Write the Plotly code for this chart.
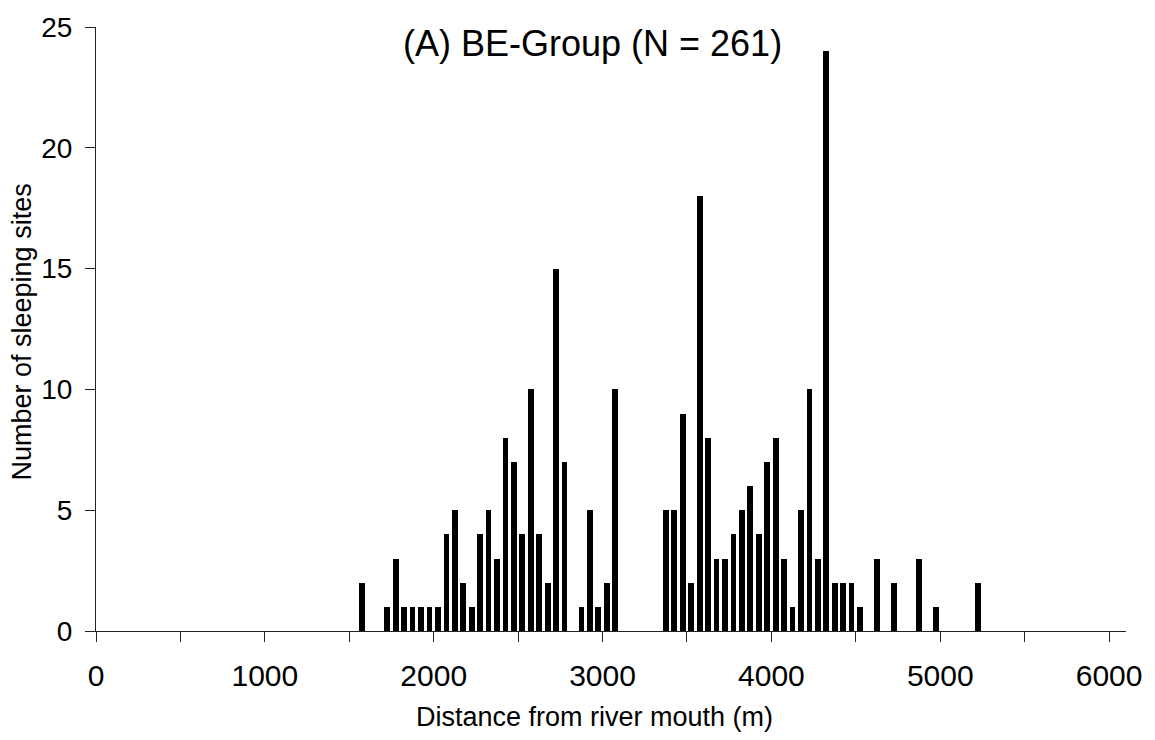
import plotly.graph_objects as go

# Bin centres (m) and number of sleeping sites
distance_m = [1575, 1725, 1775, 1825, 1875, 1925, 1975, 2025,
              2075, 2125, 2175, 2225, 2275, 2325, 2375, 2425,
              2475, 2525, 2575, 2625, 2675, 2725, 2775,
              2875, 2925, 2975, 3025, 3075,
              3375, 3425, 3475, 3525, 3575, 3625, 3675, 3725,
              3775, 3825, 3875, 3925, 3975, 4025, 4075, 4125,
              4175, 4225, 4275, 4325, 4375, 4425, 4475, 4525,
              4625, 4725, 4875, 4975, 5225]
sleeping_sites = [2, 1, 3, 1, 1, 1, 1, 1,
                  4, 5, 2, 1, 4, 5, 3, 8,
                  7, 4, 10, 4, 2, 15, 7,
                  1, 5, 1, 2, 10,
                  5, 5, 9, 2, 18, 8, 3, 3,
                  4, 5, 6, 4, 7, 8, 3, 1,
                  5, 10, 3, 24, 2, 2, 2, 1,
                  3, 2, 3, 1, 2]

x_tickvals = [0, 500, 1000, 1500, 2000, 2500, 3000, 3500, 4000, 4500, 5000, 5500, 6000]
x_ticktext = ["0", "", "1000", "", "2000", "", "3000", "", "4000", "", "5000", "", "6000"]
y_tickvals = [0, 5, 10, 15, 20, 25]

title_text = "(A) BE-Group (N = 261)"
x_title = "Distance from river mouth (m)"
y_title = "Number of sleeping sites"

FONT = "Liberation Sans, Arial, sans-serif"

fig = go.Figure()
fig.add_trace(go.Bar(
    x=distance_m, y=sleeping_sites, width=34,
    marker=dict(color="black", line=dict(width=0)),
    showlegend=False,
))

fig.update_layout(
    width=1155, height=740,
    margin=dict(l=96, r=29, t=21, b=109),
    paper_bgcolor="white", plot_bgcolor="white",
    font=dict(family=FONT, color="black"),
    bargap=0,
)
fig.update_xaxes(
    range=[0, 6100], tickmode="array", tickvals=x_tickvals, ticktext=x_ticktext,
    ticks="outside", ticklen=10, tickwidth=1, tickcolor="#222",
    showline=True, linecolor="#222", linewidth=1,
    showgrid=False, zeroline=False,
    tickfont=dict(size=30, family=FONT, color="black"),
    ticklabelstandoff=8,
)
fig.update_yaxes(
    range=[0, 25], tickmode="array", tickvals=y_tickvals,
    ticks="outside", ticklen=10, tickwidth=1, tickcolor="#222",
    showline=True, linecolor="#222", linewidth=1,
    showgrid=False, zeroline=False,
    tickfont=dict(size=28, family=FONT, color="black"),
    ticklabelstandoff=7,
)

fig.add_annotation(
    text=title_text, xref="x", yref="y", x=2943, y=24.3,
    xanchor="center", yanchor="middle", showarrow=False,
    font=dict(size=36, family=FONT, color="black"),
)
fig.add_annotation(
    text=x_title, xref="paper", yref="paper", x=0.4836, y=-0.143,
    xanchor="center", yanchor="middle", showarrow=False,
    font=dict(size=27, family=FONT, color="black"),
)
fig.add_annotation(
    text=y_title, xref="paper", yref="paper", x=-0.072, y=0.4956,
    xanchor="center", yanchor="middle", showarrow=False, textangle=-90,
    font=dict(size=27, family=FONT, color="black"),
)

fig.write_html("out.html")
